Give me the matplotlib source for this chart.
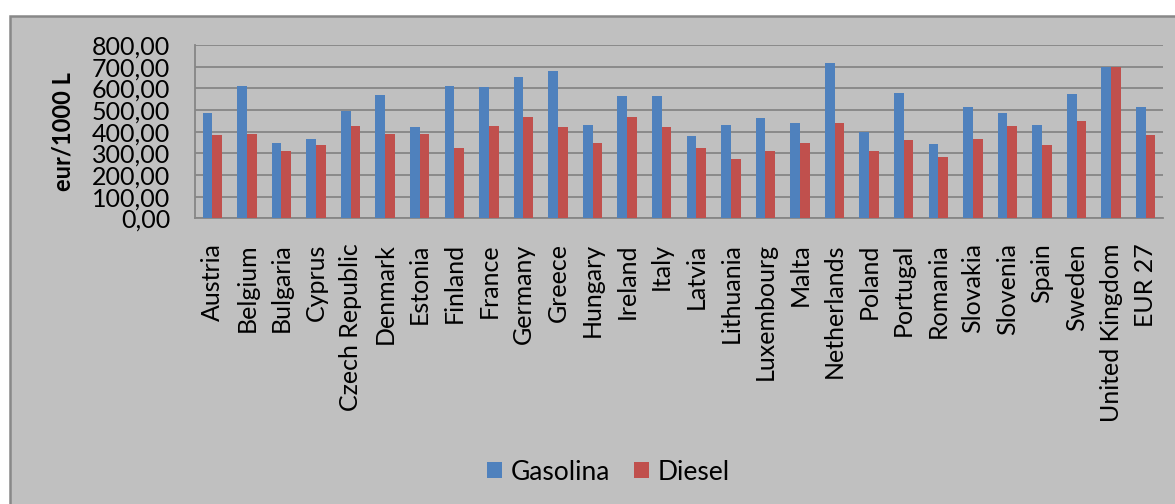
import matplotlib
matplotlib.use("Agg")
import matplotlib.pyplot as plt
import numpy as np
from matplotlib.patches import Rectangle, Patch

countries = ["Austria", "Belgium", "Bulgaria", "Cyprus", "Czech Republic", "Denmark",
             "Estonia", "Finland", "France", "Germany", "Greece", "Hungary", "Ireland",
             "Italy", "Latvia", "Lithuania", "Luxembourg", "Malta", "Netherlands",
             "Poland", "Portugal", "Romania", "Slovakia", "Slovenia", "Spain",
             "Sweden", "United Kingdom", "EUR 27"]
gasolina = [486, 611, 348, 366, 495, 569, 421, 611, 606, 652, 680, 431, 565, 565,
            380, 431, 463, 440, 717, 398, 578, 343, 514, 486, 431, 574, 698, 514]
diesel = [385, 389, 311, 338, 426, 389, 389, 325, 426, 468, 421, 348, 468, 421,
          325, 274, 311, 348, 440, 311, 361, 283, 366, 426, 338, 449, 698, 385]
y_ticks = [0, 100, 200, 300, 400, 500, 600, 700, 800]

BLUE = "#4F81BD"
RED = "#C0504D"
BG = "#C0C0C0"
GRID = "#868686"
FONT = "Lato"

plt.rcParams["font.family"] = [FONT, "DejaVu Sans"]

W, H = 1175, 504
fig = plt.figure(figsize=(W / 100, H / 100), dpi=100)
fig.patch.set_facecolor("white")

# chart area panel with its frame
fig.add_artist(Rectangle((10 / W, -0.05), 1.1, 1 - 16 / H + 0.05,
                         transform=fig.transFigure, facecolor=BG,
                         edgecolor="#888888", linewidth=1.8, zorder=0))

ax = fig.add_axes([195 / W, 1 - 218.3 / H, (1163 - 195) / W, (218.3 - 45) / H])
ax.set_facecolor("none")

x = np.arange(len(countries))
w = 0.28
ax.bar(x - w / 2, gasolina, width=w, color=BLUE, zorder=3, label="Gasolina")
ax.bar(x + w / 2, diesel, width=w, color=RED, zorder=3, label="Diesel")

ax.set_xlim(-0.5, len(countries) - 0.5)
ax.set_ylim(0, 800)
ax.set_yticks(y_ticks)
ax.set_yticklabels([f"{v:.2f}".replace(".", ",") for v in y_ticks])
ax.set_xticks(x)
ax.set_xticklabels(countries, rotation=90)
ax.tick_params(axis="both", length=0, labelsize=18, colors="black")
ax.tick_params(axis="x", pad=18)
ax.tick_params(axis="y", pad=18)

ax.yaxis.grid(True, color=GRID, linewidth=1.3, zorder=1)
ax.set_axisbelow(True)
for side in ("top", "right"):
    ax.spines[side].set_visible(False)
for side in ("left", "bottom"):
    ax.spines[side].set_color(GRID)
    ax.spines[side].set_linewidth(1.3)

fig.text(63 / W, 1 - 132 / H, "eur/1000 L", rotation=90, ha="center", va="center",
         fontsize=17, fontweight="bold")

handles = [Patch(facecolor=BLUE, label="Gasolina"), Patch(facecolor=RED, label="Diesel")]
fig.legend(handles=handles, loc="center", bbox_to_anchor=(608 / W, 1 - 472 / H),
           ncol=2, frameon=False, fontsize=19, handlelength=0.6, handleheight=0.55,
           handletextpad=0.3, columnspacing=0.9)

fig.savefig("out.png", dpi=100, facecolor=fig.get_facecolor())
